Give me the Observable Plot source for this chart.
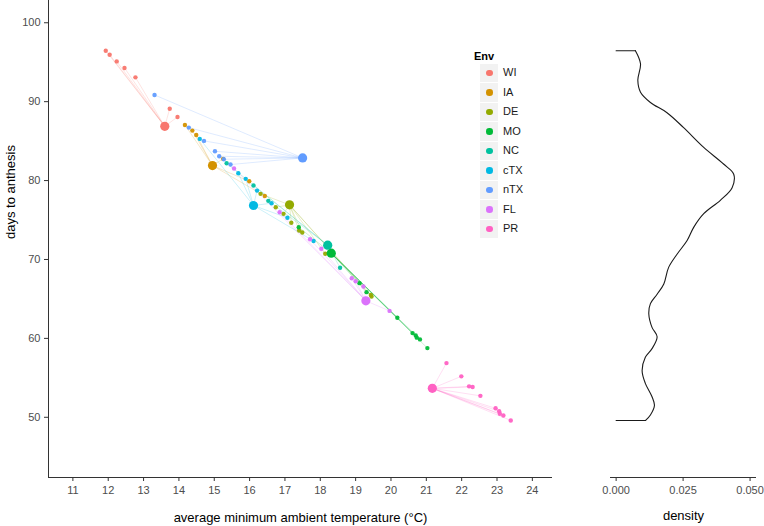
<!DOCTYPE html>
<html>
<head>
<meta charset="utf-8">
<script src="https://cdn.jsdelivr.net/npm/d3@7"></script>
<script src="https://cdn.jsdelivr.net/npm/@observablehq/plot@0.6"></script>
<style>
  body { margin: 0; background: #fff; font-family: "Liberation Sans", Arial, sans-serif; }
  #wrap { position: relative; width: 764px; height: 526px; overflow: hidden; }
  #left { position: absolute; left: 0; top: 0; }
  #right { position: absolute; left: 560px; top: 0; }
  #legend { position: absolute; left: 474px; top: 50px; font-size: 11px; color: #000; }
  #legend .ttl { font-weight: bold; height: 13px; line-height: 13px; margin-bottom: 0px; }
  #legend .row { position: relative; height: 19.5px; }
  #legend .key { position: absolute; left: 6px; top: 0.5px; width: 18px; height: 18.5px; background: #F2F2F2; }
  #legend .dot { position: absolute; left: 6px; top: 6px; width: 6.5px; height: 6.5px; border-radius: 50%; }
  #legend .lab { position: absolute; left: 29px; top: 3px; line-height: 13px; color: #1a1a1a; }
</style>
</head>
<body>
<div id="wrap">
  <div id="left"></div>
  <div id="right"></div>
  <div id="legend"></div>
</div>
<script>
// ---------- data ----------
const envs = ["WI", "IA", "DE", "MO", "NC", "cTX", "nTX", "FL", "PR"];
const envColors = ["#F8766D", "#D39200", "#93AA00", "#00BA38", "#00C19F", "#00B9E3", "#619CFF", "#DB72FB", "#FF61C3"];

// environment means (large points)
const centroidTemp = [13.60, 14.95, 17.13, 18.31, 18.21, 16.11, 17.50, 19.29, 21.17];
const centroidDays = [86.87, 81.90, 76.92, 70.80, 71.81, 76.84, 82.87, 64.76, 53.67];

// individual observations (small points)
const pointEnv = [
  "WI","WI","WI","WI","WI","WI","WI",
  "IA","IA","IA","IA","IA","IA",
  "DE","DE","DE","DE","DE","DE","DE","DE","DE",
  "MO","MO","MO","MO","MO","MO","MO","MO","MO",
  "NC","NC","NC","NC",
  "cTX","cTX","cTX","cTX","cTX","cTX","cTX",
  "nTX","nTX","nTX","nTX","nTX","nTX","nTX",
  "FL","FL","FL","FL","FL","FL","FL","FL",
  "PR","PR","PR","PR","PR","PR","PR","PR","PR","PR"
];
const pointTemp = [
  11.93, 12.04, 12.24, 12.46, 12.77, 13.74, 13.96,
  14.17, 14.38, 14.49, 15.25, 15.99, 16.43,
  16.31, 16.74, 16.96, 17.18, 17.49, 17.40, 18.14, 19.43, 19.45,
  17.39, 19.11, 19.31, 20.18, 20.61, 20.70, 20.73, 20.82, 21.03,
  15.35, 16.11, 16.53, 18.56,
  14.59, 15.68, 15.89, 16.21, 16.62, 17.07, 17.81,
  13.31, 14.28, 14.71, 15.02, 15.14, 15.27, 15.46,
  15.56, 16.85, 17.71, 18.03, 18.89, 19.00, 19.22, 19.96,
  21.57, 21.99, 22.21, 22.31, 22.53, 22.96, 23.06, 23.08, 23.18, 23.39
];
const pointDays = [
  96.46, 95.95, 95.10, 94.27, 93.08, 89.11, 88.06,
  87.05, 86.33, 85.78, 82.75, 79.91, 78.04,
  78.32, 76.62, 75.78, 74.65, 73.42, 73.67, 70.72, 65.51, 65.30,
  74.09, 67.00, 65.86, 62.62, 60.67, 60.38, 60.09, 59.87, 58.77,
  82.19, 79.37, 77.43, 68.95,
  85.28, 80.92, 80.22, 78.73, 77.13, 75.28, 72.34,
  90.85, 86.71, 85.03, 83.71, 83.08, 82.70, 82.03,
  81.52, 75.99, 72.57, 71.35, 67.63, 67.25, 66.58, 63.48,
  56.87, 55.19, 53.92, 53.84, 52.72, 51.14, 50.76, 50.44, 50.22, 49.60
];

// density of days to anthesis (right panel), read top to bottom
const densityDays = [96.46, 96.46, 94.8, 92.7, 91.2, 89.9, 88.6, 86.7, 84.2, 82.1, 80.8, 79.1, 77.5, 75.8, 74.1, 72.4, 70.7, 69.0, 66.9, 65.6, 64.4, 63.1, 61.4, 60.2, 58.7, 57.6, 55.9, 54.3, 52.6, 51.5, 50.3, 49.6, 49.6];
const densityValues = [0, 0.0072, 0.0091, 0.0081, 0.0091, 0.0128, 0.0190, 0.0252, 0.0327, 0.0401, 0.0439, 0.0433, 0.0389, 0.0327, 0.0290, 0.0265, 0.0228, 0.0196, 0.0178, 0.0153, 0.0128, 0.0122, 0.0134, 0.0153, 0.0134, 0.0109, 0.0097, 0.0109, 0.0134, 0.0143, 0.0128, 0.0110, 0];

const xTicks = [11, 12, 13, 14, 15, 16, 17, 18, 19, 20, 21, 22, 23, 24];
const yTicks = [50, 60, 70, 80, 90, 100];
const densityTicks = [0, 0.025, 0.05];
const xDomain = [10.31, 24.57];
const yDomain = [42.37, 102.82];
const densityDomain = [-0.0021, 0.0524];
const xTitle = "average minimum ambient temperature (°C)";
const yTitle = "days to anthesis";
const densityTitle = "density";
const legendTitle = "Env";

// ---------- build ----------
const idx = Object.fromEntries(envs.map((e, i) => [e, i]));
const pts = pointTemp.map((t, i) => ({env: pointEnv[i], temp: t, days: pointDays[i]}));
const cents = envs.map((e, i) => ({env: e, temp: centroidTemp[i], days: centroidDays[i]}));
const dens = densityDays.map((d, i) => ({days: d, dens: densityValues[i]}));

const axisColor = "#333333";
const tickText = "#4d4d4d";
const font = "'Liberation Sans', Arial, sans-serif";

const left = Plot.plot({
  width: 560, height: 526,
  marginLeft: 48, marginRight: 8, marginTop: 0, marginBottom: 49,
  style: {fontFamily: font, fontSize: "11px", background: "transparent", overflow: "visible"},
  x: {domain: xDomain, axis: null},
  y: {domain: yDomain, axis: null},
  color: {domain: envs, range: envColors},
  marks: [
    Plot.link(pts, {
      x1: d => centroidTemp[idx[d.env]], y1: d => centroidDays[idx[d.env]],
      x2: "temp", y2: "days", stroke: "env", strokeOpacity: 0.25, strokeWidth: 0.8
    }),
    Plot.dot(pts, {x: "temp", y: "days", fill: "env", r: 2.2, fillOpacity: 0.95}),
    Plot.dot(cents, {x: "temp", y: "days", fill: "env", r: 4.6}),
    Plot.ruleY([yDomain[0]], {stroke: axisColor, strokeWidth: 1}),
    Plot.ruleX([xDomain[0]], {stroke: axisColor, strokeWidth: 1}),
    Plot.axisX(xTicks, {tickSize: 4, tickPadding: 5, stroke: axisColor, fill: tickText, label: null, fontSize: 11}),
    Plot.axisY(yTicks, {tickSize: 4, tickPadding: 4, stroke: axisColor, fill: tickText, label: null, fontSize: 11}),
    Plot.text([xTitle], {text: d => d, frameAnchor: "bottom", lineAnchor: "middle", dy: 40, fontSize: 13, fill: "#000"}),
    Plot.text([yTitle], {text: d => d, frameAnchor: "left", lineAnchor: "middle", dx: -38, rotate: -90, fontSize: 13, fill: "#000"})
  ]
});
document.getElementById("left").appendChild(left);

const right = Plot.plot({
  width: 204, height: 526,
  marginLeft: 50, marginRight: 8, marginTop: 0, marginBottom: 49,
  style: {fontFamily: font, fontSize: "11px", background: "transparent", overflow: "visible"},
  x: {domain: densityDomain, axis: null},
  y: {domain: yDomain, axis: null},
  marks: [
    Plot.line(dens.slice(0, 2), {x: "dens", y: "days", stroke: "#1a1a1a", strokeWidth: 1.1}),
    Plot.line(dens.slice(1, dens.length - 1), {x: "dens", y: "days", curve: "catmull-rom", stroke: "#1a1a1a", strokeWidth: 1.1}),
    Plot.line(dens.slice(dens.length - 2), {x: "dens", y: "days", stroke: "#1a1a1a", strokeWidth: 1.1}),
    Plot.ruleY([yDomain[0]], {stroke: axisColor, strokeWidth: 1}),
    Plot.axisX(densityTicks, {tickSize: 4, tickPadding: 5, stroke: axisColor, fill: tickText, label: null, fontSize: 11, tickFormat: d3.format(".3f")}),
    Plot.text([densityTitle], {text: d => d, frameAnchor: "bottom", lineAnchor: "middle", dy: 38, fontSize: 13, fill: "#000"})
  ]
});
document.getElementById("right").appendChild(right);

// legend
const lg = document.getElementById("legend");
const t = document.createElement("div");
t.className = "ttl"; t.textContent = legendTitle; lg.appendChild(t);
envs.forEach((e, i) => {
  const row = document.createElement("div"); row.className = "row";
  const key = document.createElement("div"); key.className = "key";
  const dot = document.createElement("div"); dot.className = "dot"; dot.style.background = envColors[i];
  key.appendChild(dot);
  const lab = document.createElement("div"); lab.className = "lab"; lab.textContent = e;
  row.appendChild(key); row.appendChild(lab); lg.appendChild(row);
});
</script>
</body>
</html>
